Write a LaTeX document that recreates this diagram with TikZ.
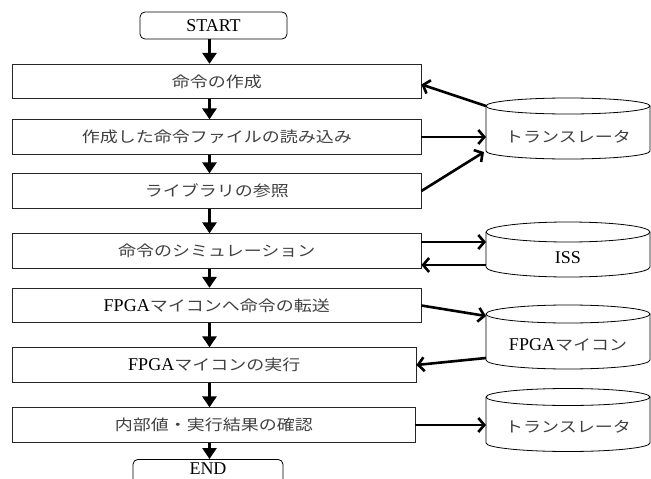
\documentclass[tikz,border=0pt]{standalone}
\usepackage{fontspec}
\setmainfont{Liberation Serif}
\newfontfamily\cjk[FakeStretch=1.2]{Noto Sans CJK JP}
\usetikzlibrary{arrows.meta}
\newcommand\jp[1]{{\cjk\fontsize{15}{18}\selectfont\color{black!75}#1}}
\newcommand\drawcyl[6]{%
  \draw[cylline] (486,#2) arc[start angle=180,end angle=-180,x radius=82pt,y radius=#4pt];
  \draw[cylline] (486,#2) -- (486,#3) arc[start angle=180,end angle=360,x radius=82pt,y radius=#4pt] -- (650,#2);
  \node[txt] (#1) at (568,#6) {#5};
}
\begin{document}
\begin{tikzpicture}[x=1pt,y=-1pt,
  txt/.style={font=\fontsize{18}{21}\selectfont, inner sep=0pt},
  box/.style={draw=black!85, line width=0.8pt, minimum width=408.5pt, minimum height=34.5pt, inner sep=0pt, font=\fontsize{18}{21}\selectfont},
  term/.style={draw=black, line width=0.8pt, rounded corners=5pt, inner sep=0pt, font=\fontsize{18}{21}\selectfont},
  flow/.style={line width=3pt, -{Triangle[width=14pt,length=11pt]}},
  side/.style={line width=2.6pt, -{Straight Barb[length=6pt,width=14pt]}},
  cylline/.style={line width=0.8pt, draw=black}]
\useasboundingbox (0,0) rectangle (651,479);

\node[term, minimum width=147pt, minimum height=27pt] (start) at (213.5,25.5) {START};
\node[box] (b1) at (216.75,81.5) {\jp{命令の作成}};
\node[box] (b2) at (216.75,137) {\jp{作成した命令ファイルの読み込み}};
\node[box] (b3) at (216.75,191) {\jp{ライブラリの参照}};
\node[box] (b4) at (216.75,251) {\jp{命令のシミュレーション}};
\node[box] (b5) at (216.75,305.5) {FPGA\jp{マイコンへ命令の転送}};
\node[box, minimum width=403.5pt] (b6) at (214.25,365) {FPGA\jp{マイコンの実行}};
\node[box, minimum width=402.5pt] (b7) at (213.75,425) {\jp{内部値・実行結果の確認}};
\node[term, anchor=north, minimum width=150pt, text height=12pt, text depth=20pt, inner ysep=3pt] (end) at (208,459) {END};

\drawcyl{c1}{106}{151}{8}{\jp{トランスレータ}}{137}
\drawcyl{c2}{232}{267}{10}{ISS}{258}
\drawcyl{c3}{314}{360}{9}{FPGA\jp{マイコン}}{345}
\drawcyl{c4}{397}{443}{8.5}{\jp{トランスレータ}}{427}

\coordinate (ax) at (209.5,0);
\draw[flow] (start.south -| ax) -- (b1.north -| ax);
\draw[flow] (b1.south -| ax) -- (b2.north -| ax);
\draw[flow] (b2.south -| ax) -- (b3.north -| ax);
\draw[flow] (b3.south -| ax) -- (b4.north -| ax);
\draw[flow] (b4.south -| ax) -- (b5.north -| ax);
\draw[flow] (b5.south -| ax) -- (b6.north -| ax);
\draw[flow] (b6.south -| ax) -- (b7.north -| ax);
\draw[flow] (b7.south -| ax) -- (end.north -| ax);

\coordinate (c1nw) at (486,106);
\coordinate (c1w) at (486,137);
\coordinate (c1sw) at (484,152);
\coordinate (c2w1) at (486,242);
\coordinate (c2w2) at (486,265);
\coordinate (c3w1) at (486,316);
\coordinate (c3w2) at (486,358);
\coordinate (c4w) at (486,425);

\draw[side] (c1nw) -- ([yshift=-3pt]b1.east);
\draw[side] (b2.east) -- (c1w);
\draw[side] (b3.east) -- (c1sw);
\draw[side] ([yshift=9pt]b4.east) -- (c2w1);
\draw[side] (c2w2) -- ([yshift=-14pt]b4.east);
\draw[side] (b5.east) -- (c3w1);
\draw[side] (c3w2) -- (b6.east);
\draw[side] (b7.east) -- (c4w);
\end{tikzpicture}
\end{document}
